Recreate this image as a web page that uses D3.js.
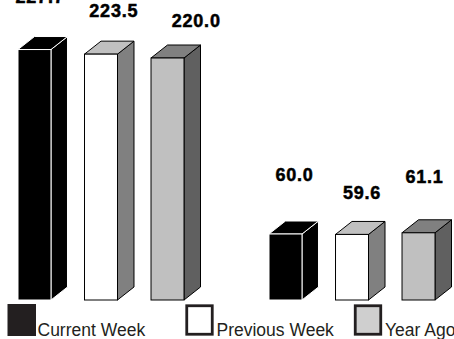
<!DOCTYPE html>
<html>
<head>
<meta charset="utf-8">
<script src="https://cdn.jsdelivr.net/npm/d3@7"></script>
<style>
  html, body { margin: 0; padding: 0; background: #fff; overflow: hidden; }
  svg { display: block; font-family: "Liberation Sans", Arial, sans-serif; }
</style>
</head>
<body>
<svg id="chart" width="454" height="339"></svg>
<script>
// Two groups of stock levels, three comparison periods each
const categories = ["Total", "Subset"];
const seriesNames = ["Current Week", "Previous Week", "Year Ago"];
const currentWeek = [227.7, 60.0];
const previousWeek = [223.5, 59.6];
const yearAgo = [220.0, 61.1];
const seriesValues = [currentWeek, previousWeek, yearAgo];

// Face colours per series: front, top, side, edge
const faceStyles = [
  { front: "#000000", top: "#000000", side: "#000000", edge: "#ffffff" },
  { front: "#ffffff", top: "#c0c0c0", side: "#808080", edge: "#000000" },
  { front: "#c0c0c0", top: "#808080", side: "#606060", edge: "#000000" }
];
const legendFill = ["#231f20", "#ffffff", "#cfcfcf"];

// Value-label nudges [dx from front centre, dy from front top], per group and series
const labelNudge = [
  [[5.5, -47], [12.8, -37.5], [28.7, -31]],
  [[9, -53.5], [10, -35], [6, -49.5]]
];

const svg = d3.select("#chart");
const depthX = 16.5, depthY = 13;

const x0 = d3.scaleBand()
  .domain(categories)
  .range([18, 454])
  .paddingInner(0.263)
  .paddingOuter(0);

const x1 = d3.scaleBand()
  .domain(seriesNames)
  .range([0, 166])
  .paddingInner(0.504)
  .paddingOuter(0);

const y = d3.scaleLinear().domain([0, 250]).range([300, 25]);

const rows = [];
categories.forEach((c, gi) => {
  seriesNames.forEach((s, si) => {
    rows.push({ cat: c, gi, series: s, si, value: seriesValues[si][gi] });
  });
});

const bars = svg.append("g").selectAll("g.bar")
  .data(rows)
  .join("g")
  .attr("class", "bar");

bars.each(function (d) {
  const g = d3.select(this);
  const st = faceStyles[d.si];
  const x = x0(d.cat) + x1(d.series);
  const w = x1.bandwidth();
  const yt = y(d.value);
  const yb = y(0);
  // side face
  g.append("path")
    .attr("d", `M${x + w},${yt} L${x + w + depthX},${yt - depthY} L${x + w + depthX},${yb - depthY} L${x + w},${yb} Z`)
    .attr("fill", st.side).attr("stroke", st.edge).attr("stroke-width", 1)
    .attr("stroke-linejoin", "round");
  // top face
  g.append("path")
    .attr("d", `M${x},${yt} L${x + depthX},${yt - depthY} L${x + w + depthX},${yt - depthY} L${x + w},${yt} Z`)
    .attr("fill", st.top).attr("stroke", st.edge).attr("stroke-width", 1)
    .attr("stroke-linejoin", "round");
  // front face
  g.append("rect")
    .attr("x", x).attr("y", yt)
    .attr("width", w).attr("height", yb - yt)
    .attr("fill", st.front).attr("stroke", st.edge).attr("stroke-width", 1);
  // value label
  const nd = labelNudge[d.gi][d.si];
  g.append("text")
    .attr("x", x + w / 2 + nd[0])
    .attr("y", yt + nd[1])
    .attr("text-anchor", "middle")
    .attr("font-size", "18px")
    .attr("font-weight", "bold")
    .attr("letter-spacing", "0.8px")
    .attr("fill", "#000")
    .attr("stroke", "#000")
    .attr("stroke-width", 0.5)
    .text(d.value.toFixed(1));
});

// Legend
const legendX = [7.5, 185.5, 354];
const legend = svg.append("g").selectAll("g.legend")
  .data(seriesNames)
  .join("g")
  .attr("class", "legend")
  .attr("transform", (d, i) => `translate(${legendX[i]},304)`);

legend.append("rect")
  .attr("x", (d, i) => i === 0 ? 0 : 1.25)
  .attr("y", (d, i) => i === 0 ? 0 : 1.75)
  .attr("width", (d, i) => i === 0 ? 28.5 : 25.5)
  .attr("height", (d, i) => i === 0 ? 32 : 28.5)
  .attr("fill", (d, i) => legendFill[i])
  .attr("stroke", (d, i) => i === 0 ? "none" : "#231f20")
  .attr("stroke-width", 2.8);

legend.append("text")
  .attr("x", (d, i) => i === 0 ? 30 : 31)
  .attr("y", 31.5)
  .attr("font-size", "17.5px")
  .attr("fill", "#231f20")
  .text(d => d);
</script>
</body>
</html>
